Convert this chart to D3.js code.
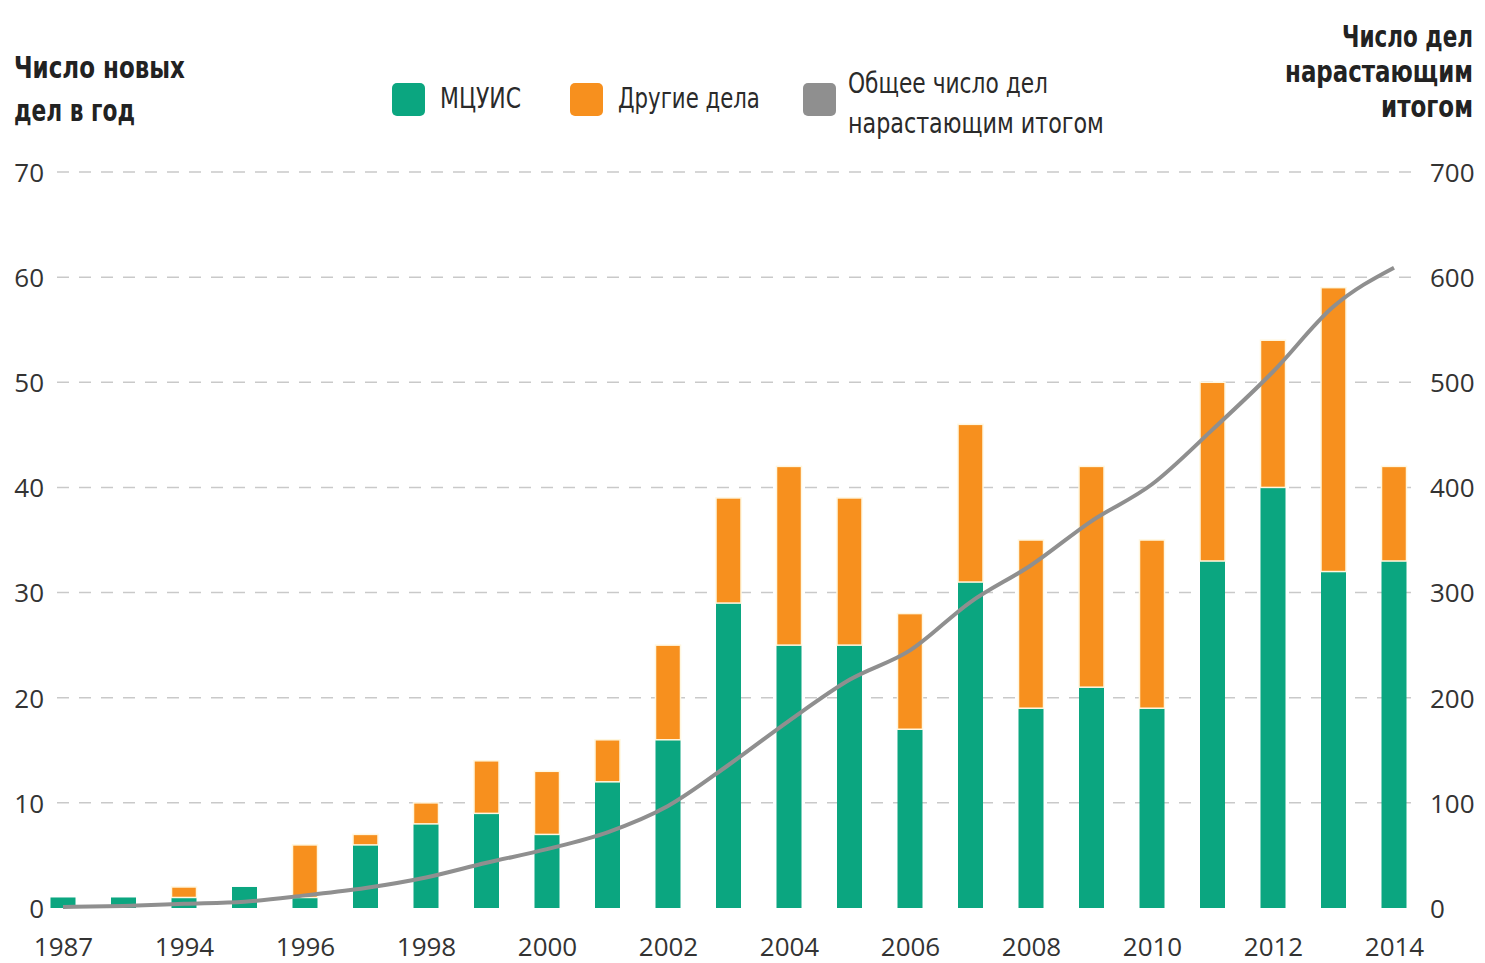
<!DOCTYPE html>
<html>
<head>
<meta charset="utf-8">
<script src="https://cdn.jsdelivr.net/npm/d3@7"></script>
<style>
  body { margin: 0; background: #fff; }
  .num { font-family: "Open Sans", sans-serif; font-size: 26px; fill: #333; }
  .ttl { font-family: "DejaVu Sans Condensed", "DejaVu Sans", sans-serif; font-stretch: condensed; font-weight: bold; font-size: 30px; fill: #222; }
  .leg { font-family: "DejaVu Sans Condensed", "DejaVu Sans", sans-serif; font-stretch: condensed; font-size: 29px; fill: #2a2a2a; }
</style>
</head>
<body>
<div id="chart"></div>
<script>
// categories (second bar has no label in the original)
var years = ["1987", "1993", "1994", "1995", "1996", "1997", "1998", "1999", "2000", "2001",
             "2002", "2003", "2004", "2005", "2006", "2007", "2008", "2009", "2010", "2011",
             "2012", "2013", "2014"];
var tickYears = ["1987", "1994", "1996", "1998", "2000", "2002", "2004", "2006", "2008", "2010", "2012", "2014"];

// new cases per year
var icsid  = [1, 1, 1, 2, 1, 6, 8, 9, 7, 12, 16, 29, 25, 25, 17, 31, 19, 21, 19, 33, 40, 32, 33];
var others = [0, 0, 1, 0, 5, 1, 2, 5, 6, 4, 9, 10, 17, 14, 11, 15, 16, 21, 16, 17, 14, 27, 9];

// cumulative total (right axis)
var cumulative = [1, 2, 4, 6, 12, 19, 29, 43, 56, 72, 97, 136, 178, 217, 245, 291, 326, 368, 403, 455, 510, 572, 609];

var leftTicks = [0, 10, 20, 30, 40, 50, 60, 70];
var rightTicks = [0, 100, 200, 300, 400, 500, 600, 700];

var width = 1485,
    height = 963;

var green = "#0ba680",
    orange = "#f7901e",
    grey = "#8f8f8f";

var svg = d3.select("#chart").append("svg")
  .attr("width", width)
  .attr("height", height);

var x = d3.scalePoint()
  .domain(years)
  .range([63, 1394]);

var y = d3.scaleLinear()
  .domain([0, 70])
  .range([908, 172]);

var y2 = d3.scaleLinear()
  .domain([0, 700])
  .range([908, 172]);

var barW = 25;

// grid lines
svg.append("g")
  .selectAll("line")
  .data(leftTicks.filter(function(d) { return d > 0; }))
  .enter().append("line")
  .attr("x1", 57)
  .attr("x2", 1412)
  .attr("y1", function(d) { return y(d); })
  .attr("y2", function(d) { return y(d); })
  .attr("stroke", "#c9c9c9")
  .attr("stroke-width", 1.5)
  .attr("stroke-dasharray", "12,10");

// left axis
svg.append("g")
  .attr("transform", "translate(44,0)")
  .call(d3.axisLeft(y).tickValues(leftTicks).tickSize(0).tickPadding(0))
  .call(function(g) { g.select(".domain").remove(); })
  .selectAll("text")
  .attr("class", "num")
  .attr("dy", "0.36em");

// right axis
svg.append("g")
  .attr("transform", "translate(1430,0)")
  .call(d3.axisRight(y2).tickValues(rightTicks).tickSize(0).tickPadding(0))
  .call(function(g) { g.select(".domain").remove(); })
  .selectAll("text")
  .attr("class", "num")
  .attr("dy", "0.36em");

// x axis
svg.append("g")
  .attr("transform", "translate(0,937)")
  .call(d3.axisBottom(x).tickValues(tickYears).tickSize(0).tickPadding(0))
  .call(function(g) { g.select(".domain").remove(); })
  .selectAll("text")
  .attr("class", "num")
  .attr("dy", "0.72em");

svg.selectAll(".tick text").attr("font-size", null).attr("font-family", null).attr("fill", null);

// stacked bars
var bars = svg.append("g");

bars.selectAll(".g-bar")
  .data(years)
  .enter().append("rect")
  .attr("class", "g-bar")
  .attr("x", function(d) { return x(d) - barW / 2; })
  .attr("width", barW)
  .attr("y", function(d, i) { return y(icsid[i]); })
  .attr("height", function(d, i) { return y(0) - y(icsid[i]); })
  .attr("fill", green);

bars.selectAll(".o-bar")
  .data(years)
  .enter().append("rect")
  .attr("class", "o-bar")
  .attr("x", function(d) { return x(d) - barW / 2; })
  .attr("width", barW)
  .attr("y", function(d, i) { return y(icsid[i] + others[i]); })
  .attr("height", function(d, i) { return y(icsid[i]) - y(icsid[i] + others[i]); })
  .attr("fill", orange)
  .attr("stroke", "#fff7e0")
  .attr("stroke-width", function(d, i) { return others[i] > 0 ? 1.5 : 0; });

// cumulative line
var line = d3.line()
  .x(function(d, i) { return x(years[i]); })
  .y(function(d) { return y2(d); })
  .curve(d3.curveMonotoneX);

svg.append("path")
  .datum(cumulative)
  .attr("fill", "none")
  .attr("stroke", grey)
  .attr("stroke-width", 4)
  .attr("stroke-linejoin", "round")
  .attr("d", line);

// text squeezed horizontally to the width it has in the original
function label(parent, cls, tx, ty, str, w, anchor) {
  var t = parent.append("text")
    .attr("class", cls)
    .attr("text-anchor", anchor || "start")
    .text(str);
  var k = w / t.node().getComputedTextLength();
  t.attr("transform", "translate(" + tx + "," + ty + ") scale(" + k + ",1)");
  return t;
}

// axis titles
label(svg, "ttl", 14, 78, "Число новых", 171);
label(svg, "ttl", 14, 121, "дел в год", 121);

label(svg, "ttl", 1473, 47, "Число дел", 131, "end");
label(svg, "ttl", 1473, 82, "нарастающим", 188, "end");
label(svg, "ttl", 1473, 117, "итогом", 92, "end");

// legend
var legend = [
  { label: ["МЦУИС"], w: [81], color: green, x: 392 },
  { label: ["Другие дела"], w: [142], color: orange, x: 570 },
  { label: ["Общее число дел", "нарастающим итогом"], w: [200, 256], color: grey, x: 803 }
];

var lg = svg.append("g").selectAll("g")
  .data(legend)
  .enter().append("g")
  .attr("transform", function(d) { return "translate(" + d.x + ",83)"; });

lg.append("rect")
  .attr("width", 33)
  .attr("height", 33)
  .attr("rx", 5)
  .attr("fill", function(d) { return d.color; });

lg.each(function(d) {
  var g = d3.select(this);
  if (d.label.length == 1) {
    label(g, "leg", 48, 25, d.label[0], d.w[0]);
  } else {
    label(g, "leg", 45, 10, d.label[0], d.w[0]);
    label(g, "leg", 45, 50, d.label[1], d.w[1]);
  }
});
</script>
</body>
</html>
